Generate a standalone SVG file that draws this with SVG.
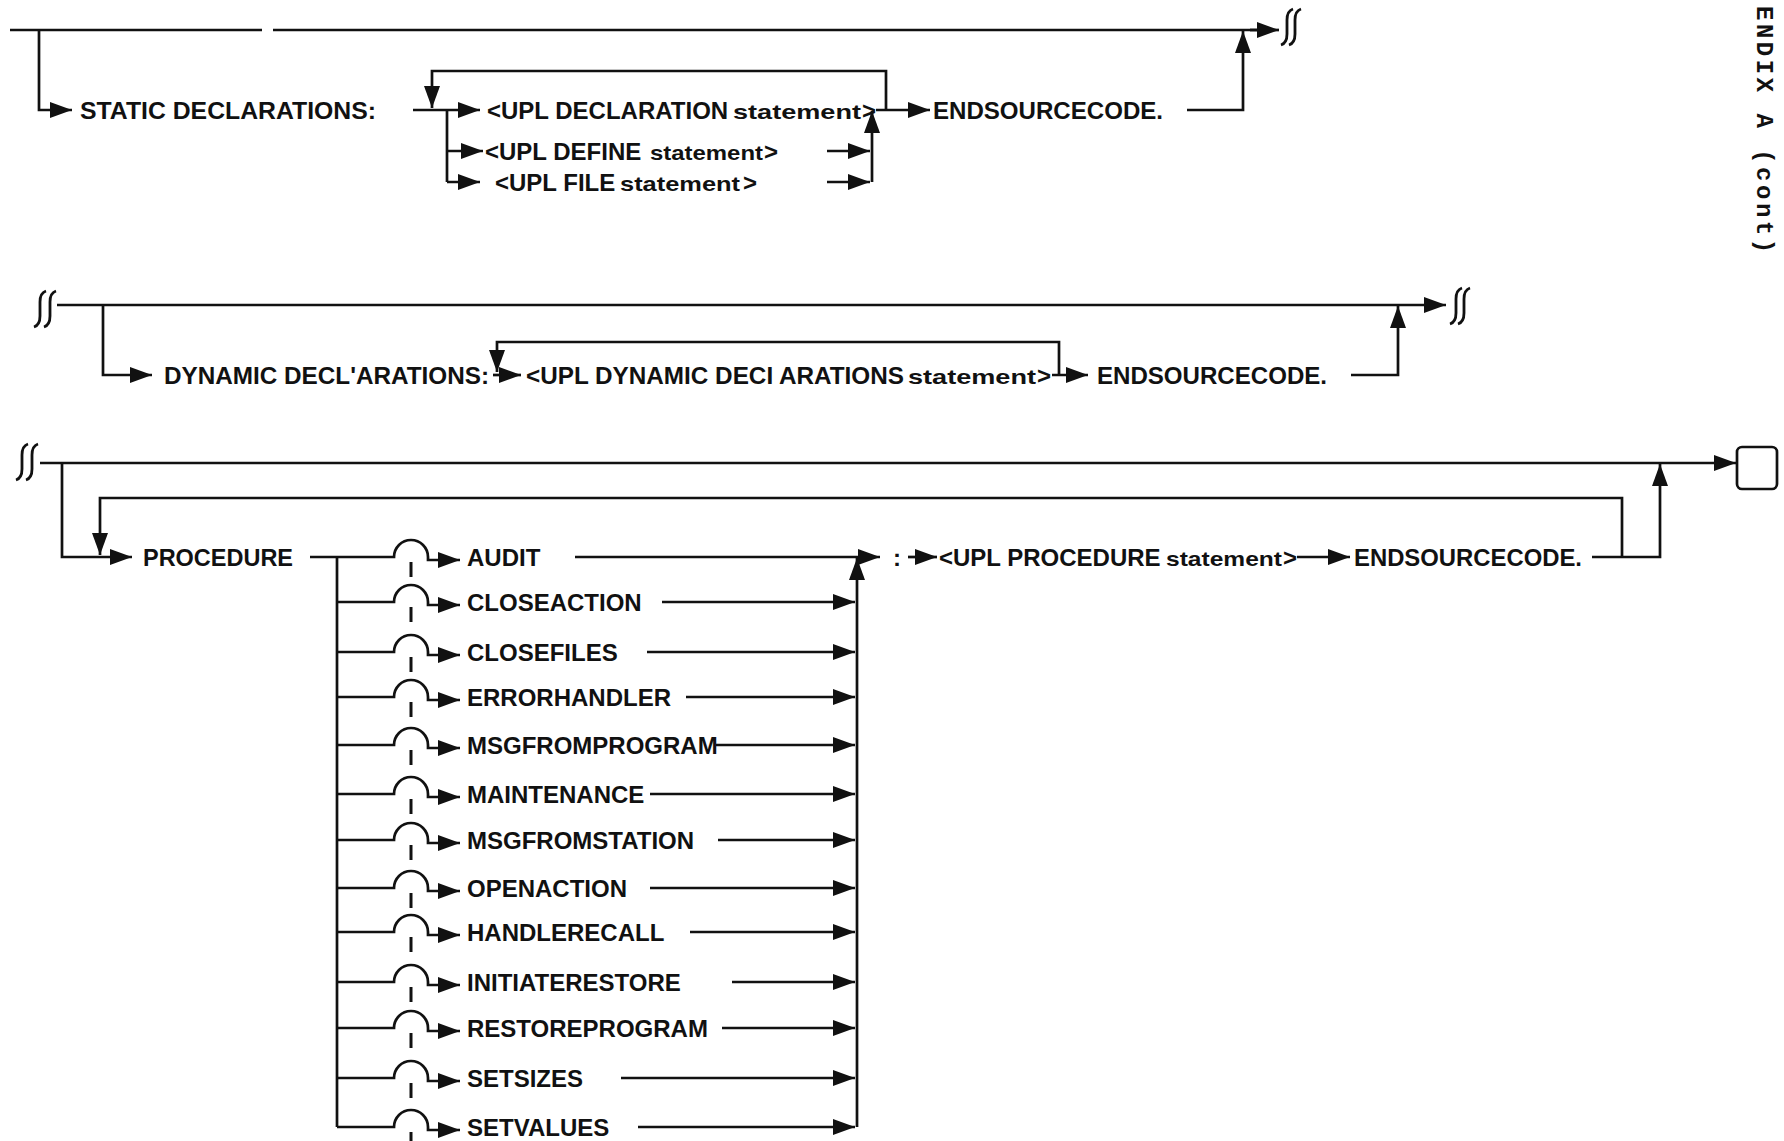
<svg xmlns="http://www.w3.org/2000/svg" width="1784" height="1141" viewBox="0 0 1784 1141">
<style>
.ln{fill:none;stroke:#111;stroke-width:2.7}
.tk{fill:none;stroke:#111;stroke-width:3}
.a{marker-end:url(#ah)}
.t{font-family:"Liberation Sans",Arial,sans-serif;font-weight:bold;font-size:24px;fill:#111}
.s{font-size:21px}
.sq{fill:none;stroke:#111;stroke-width:2.8}
.side{font-family:"Liberation Mono","Courier New",monospace;font-weight:bold;font-size:24px;letter-spacing:3.5px;fill:#111}
</style>
<defs>
<marker id="ah" viewBox="0 0 22 16" refX="22" refY="8" markerWidth="22" markerHeight="16" markerUnits="userSpaceOnUse" orient="auto"><path d="M0,0 L22,8 L0,16 z" fill="#111"/></marker>
<path id="sqs" d="M6,-18 Q0,-16 0,-7 L0,7 Q0,16 -6,18"/>
</defs>
<rect width="1784" height="1141" fill="#fff"/>

<g id="connectors">
<!-- section 1 -->
<path class="ln" d="M10,30 H262 M273,30 H1257"/>
<path class="ln a" d="M1250,30 H1279"/>
<path class="ln a" d="M39,30 V110 H72"/>
<path class="ln a" d="M413,110 H480"/>
<path class="ln a" d="M886,110 V71 H432 V108"/>
<path class="ln" d="M447,110 V182"/>
<path class="ln a" d="M447,151 H483"/>
<path class="ln a" d="M447,182 H480"/>
<path class="ln a" d="M827,151 H870"/>
<path class="ln a" d="M827,182 H870"/>
<path class="ln a" d="M872,182 V111"/>
<path class="ln a" d="M876,110 H930"/>
<path class="ln a" d="M1187,110 H1243 V31"/>
<!-- section 2 -->
<path class="ln a" d="M57,305 H1446"/>
<path class="ln a" d="M103,305 V375 H152"/>
<path class="ln a" d="M493,375 H521"/>
<path class="ln a" d="M1059,375 V342 H497 V372"/>
<path class="ln a" d="M1052,375 H1088"/>
<path class="ln a" d="M1351,375 H1398 V306"/>
<!-- section 3 -->
<path class="ln a" d="M40,463 H1736"/>
<path class="ln a" d="M62,463 V557 H132"/>
<path class="ln a" d="M1622,557 V498 H100 V555"/>
<path class="ln" d="M337,557 V1127"/>
<path class="ln a" d="M857,1127 V558"/>
<path class="ln a" d="M908,557 H937"/>
<path class="ln a" d="M1297,557 H1350"/>
<path class="ln a" d="M1592,557 H1660 V464"/>
<!-- procedure rows -->
<path class="ln a" d="M310,557 H394 A17,17 0 0 1 428,557 V560 H460"/>
<path class="tk" d="M411,562 V577"/>
<path class="ln a" d="M575,557 H880"/>
<path class="ln a" d="M337,602 H394 A17,17 0 0 1 428,602 V605 H460"/>
<path class="tk" d="M411,607 V622"/>
<path class="ln a" d="M662,602 H855"/>
<path class="ln a" d="M337,652 H394 A17,17 0 0 1 428,652 V655 H460"/>
<path class="tk" d="M411,657 V672"/>
<path class="ln a" d="M647,652 H855"/>
<path class="ln a" d="M337,697 H394 A17,17 0 0 1 428,697 V700 H460"/>
<path class="tk" d="M411,702 V717"/>
<path class="ln a" d="M686,697 H855"/>
<path class="ln a" d="M337,745 H394 A17,17 0 0 1 428,745 V748 H460"/>
<path class="tk" d="M411,750 V765"/>
<path class="ln a" d="M716,745 H855"/>
<path class="ln a" d="M337,794 H394 A17,17 0 0 1 428,794 V797 H460"/>
<path class="tk" d="M411,799 V814"/>
<path class="ln a" d="M650,794 H855"/>
<path class="ln a" d="M337,840 H394 A17,17 0 0 1 428,840 V843 H460"/>
<path class="tk" d="M411,845 V860"/>
<path class="ln a" d="M718,840 H855"/>
<path class="ln a" d="M337,888 H394 A17,17 0 0 1 428,888 V891 H460"/>
<path class="tk" d="M411,893 V908"/>
<path class="ln a" d="M650,888 H855"/>
<path class="ln a" d="M337,932 H394 A17,17 0 0 1 428,932 V935 H460"/>
<path class="tk" d="M411,937 V952"/>
<path class="ln a" d="M690,932 H855"/>
<path class="ln a" d="M337,982 H394 A17,17 0 0 1 428,982 V985 H460"/>
<path class="tk" d="M411,987 V1002"/>
<path class="ln a" d="M732,982 H855"/>
<path class="ln a" d="M337,1028 H394 A17,17 0 0 1 428,1028 V1031 H460"/>
<path class="tk" d="M411,1033 V1048"/>
<path class="ln a" d="M722,1028 H855"/>
<path class="ln a" d="M337,1078 H394 A17,17 0 0 1 428,1078 V1081 H460"/>
<path class="tk" d="M411,1083 V1098"/>
<path class="ln a" d="M621,1078 H855"/>
<path class="ln a" d="M337,1127 H394 A17,17 0 0 1 428,1127 V1130 H460"/>
<path class="tk" d="M411,1132 V1141"/>
<path class="ln a" d="M638,1127 H855"/>
</g>

<g id="breaks">
<use href="#sqs" class="sq" x="1287" y="27"/>
<use href="#sqs" class="sq" x="1295" y="27"/>
<use href="#sqs" class="sq" x="40" y="309"/>
<use href="#sqs" class="sq" x="50" y="309"/>
<use href="#sqs" class="sq" x="1456" y="306"/>
<use href="#sqs" class="sq" x="1464" y="306"/>
<use href="#sqs" class="sq" x="22" y="462"/>
<use href="#sqs" class="sq" x="32" y="462"/>
</g>

<g id="n-static"><text class="t" x="80" y="118.6" textLength="296" lengthAdjust="spacingAndGlyphs">STATIC DECLARATIONS:</text></g>
<g id="n-upl-decl">
<text class="t" x="487" y="118.6">&lt;UPL DECLARATION</text>
<text class="t s" x="733" y="118.6" textLength="128" lengthAdjust="spacingAndGlyphs">statement</text>
<text class="t" x="862" y="118.6">&gt;</text>
</g>
<g id="n-upl-define">
<text class="t" x="485" y="159.6">&lt;UPL DEFINE</text>
<text class="t s" x="650" y="159.6" textLength="113" lengthAdjust="spacingAndGlyphs">statement</text>
<text class="t" x="764" y="159.6">&gt;</text>
</g>
<g id="n-upl-file">
<text class="t" x="495" y="190.6">&lt;UPL FILE</text>
<text class="t s" x="620" y="190.6" textLength="120" lengthAdjust="spacingAndGlyphs">statement</text>
<text class="t" x="743" y="190.6">&gt;</text>
</g>
<g id="n-end1"><text class="t" x="933" y="118.6" textLength="230" lengthAdjust="spacingAndGlyphs">ENDSOURCECODE.</text></g>

<g id="n-dynamic"><text class="t" x="164" y="383.6" textLength="325" lengthAdjust="spacingAndGlyphs">DYNAMIC DECL'ARATIONS:</text></g>
<g id="n-upl-dyn">
<text class="t" x="526" y="383.6" textLength="378" lengthAdjust="spacingAndGlyphs">&lt;UPL DYNAMIC DECI ARATIONS</text>
<text class="t s" x="908" y="383.6" textLength="128" lengthAdjust="spacingAndGlyphs">statement</text>
<text class="t" x="1037" y="383.6">&gt;</text>
</g>
<g id="n-end2"><text class="t" x="1097" y="383.6" textLength="230" lengthAdjust="spacingAndGlyphs">ENDSOURCECODE.</text></g>

<g id="n-procedure"><text class="t" x="143" y="565.6" textLength="150" lengthAdjust="spacingAndGlyphs">PROCEDURE</text></g>
<g id="n-audit"><text class="t" x="467" y="565.6">AUDIT</text></g>
<g id="n-closeaction"><text class="t" x="467" y="610.6">CLOSEACTION</text></g>
<g id="n-closefiles"><text class="t" x="467" y="660.6">CLOSEFILES</text></g>
<g id="n-errorhandler"><text class="t" x="467" y="705.6">ERRORHANDLER</text></g>
<g id="n-msgfromprogram"><text class="t" x="467" y="753.6">MSGFROMPROGRAM</text></g>
<g id="n-maintenance"><text class="t" x="467" y="802.6">MAINTENANCE</text></g>
<g id="n-msgfromstation"><text class="t" x="467" y="848.6">MSGFROMSTATION</text></g>
<g id="n-openaction"><text class="t" x="467" y="896.6">OPENACTION</text></g>
<g id="n-handlerecall"><text class="t" x="467" y="940.6">HANDLERECALL</text></g>
<g id="n-initiaterestore"><text class="t" x="467" y="990.6">INITIATERESTORE</text></g>
<g id="n-restoreprogram"><text class="t" x="467" y="1036.6">RESTOREPROGRAM</text></g>
<g id="n-setsizes"><text class="t" x="467" y="1086.6">SETSIZES</text></g>
<g id="n-setvalues"><text class="t" x="467" y="1135.6">SETVALUES</text></g>
<g id="n-colon"><text class="t" x="893" y="565.6">:</text></g>
<g id="n-upl-proc">
<text class="t" x="939" y="565.6">&lt;UPL PROCEDURE</text>
<text class="t s" x="1166" y="565.6" textLength="116" lengthAdjust="spacingAndGlyphs">statement</text>
<text class="t" x="1283" y="565.6">&gt;</text>
</g>
<g id="n-end3"><text class="t" x="1354" y="565.6" textLength="228" lengthAdjust="spacingAndGlyphs">ENDSOURCECODE.</text></g>
<g id="n-stop"><rect x="1737" y="447" width="40" height="42" rx="5" fill="#fff" stroke="#111" stroke-width="2.7"/></g>

<g id="side-title"><text class="side" transform="translate(1757,6) rotate(90)">ENDIX A (cont)</text></g>
</svg>
